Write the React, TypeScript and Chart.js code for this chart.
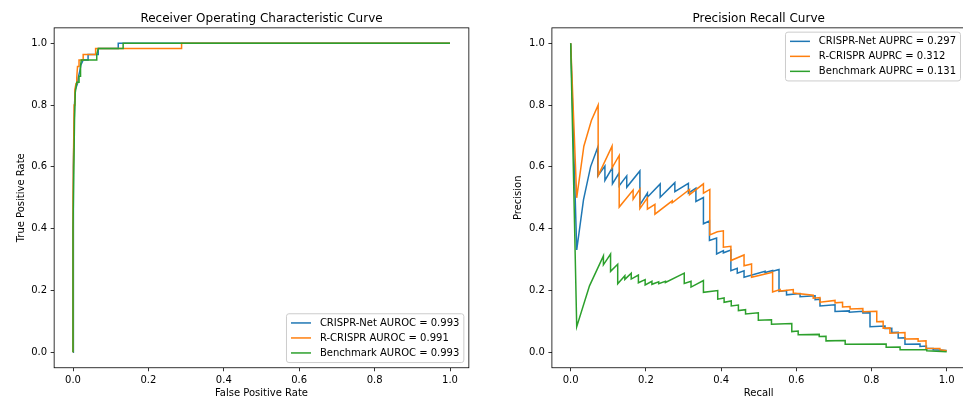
import React, { useEffect, useRef } from "react";
import { Chart, registerables } from "chart.js";
Chart.register(...registerables);

const FONT = "'DejaVu Sans', sans-serif";
const COLORS = ["#1f77b4", "#ff7f0e", "#2ca02c"];

const axisTicks = [0, 0.2, 0.4, 0.6, 0.8, 1.0];

const rocTitle = "Receiver Operating Characteristic Curve";
const rocXLabel = "False Positive Rate";
const rocYLabel = "True Positive Rate";
const rocLabels = ["CRISPR-Net AUROC = 0.993", "R-CRISPR AUROC = 0.991", "Benchmark AUROC = 0.993"];

const prTitle = "Precision Recall Curve";
const prXLabel = "Recall";
const prYLabel = "Precision";
const prLabels = ["CRISPR-Net AUPRC = 0.297", "R-CRISPR AUPRC = 0.312", "Benchmark AUPRC = 0.131"];

// ROC curves
const rocNetFpr = [0, 0, 0.002, 0.004, 0.006, 0.012, 0.014, 0.018, 0.021, 0.027, 0.040, 0.040, 0.067, 0.067, 0.120, 0.120, 1.0];
const rocNetTpr = [0, 0.35, 0.60, 0.80, 0.85, 0.87, 0.89, 0.91, 0.93, 0.946, 0.946, 0.964, 0.964, 0.983, 0.983, 1.0, 1.0];
const rocRFpr = [0, 0, 0.003, 0.005, 0.008, 0.010, 0.012, 0.016, 0.016, 0.027, 0.027, 0.060, 0.060, 0.288, 0.288, 1.0];
const rocRTpr = [0, 0.50, 0.80, 0.85, 0.87, 0.89, 0.925, 0.925, 0.946, 0.946, 0.964, 0.964, 0.983, 0.983, 1.0, 1.0];
const rocBFpr = [0, 0, 0.004, 0.006, 0.010, 0.016, 0.016, 0.020, 0.020, 0.022, 0.063, 0.063, 0.067, 0.133, 0.133, 1.0];
const rocBTpr = [0, 0.40, 0.75, 0.84, 0.874, 0.874, 0.893, 0.893, 0.927, 0.946, 0.946, 0.964, 0.983, 0.983, 1.0, 1.0];

// Precision-recall curves
const prNetRecall = [0, 0.016, 0.034, 0.053, 0.072, 0.072, 0.091, 0.091, 0.111, 0.111, 0.129, 0.129, 0.149, 0.149, 0.184, 0.184, 0.204, 0.204, 0.238, 0.238, 0.277, 0.277, 0.313, 0.313, 0.333, 0.333, 0.353, 0.353, 0.369, 0.369, 0.388, 0.388, 0.406, 0.406, 0.426, 0.426, 0.443, 0.443, 0.461, 0.461, 0.517, 0.517, 0.537, 0.537, 0.554, 0.554, 0.574, 0.574, 0.610, 0.610, 0.650, 0.650, 0.663, 0.663, 0.703, 0.703, 0.741, 0.741, 0.777, 0.777, 0.796, 0.796, 0.836, 0.836, 0.854, 0.854, 0.871, 0.871, 0.889, 0.889, 0.929, 0.929, 0.946, 0.946, 0.964, 0.964, 1.0];
const prNetPrecision = [1.0, 0.331, 0.493, 0.601, 0.664, 0.571, 0.603, 0.556, 0.598, 0.545, 0.581, 0.539, 0.571, 0.534, 0.587, 0.477, 0.515, 0.502, 0.545, 0.502, 0.549, 0.520, 0.547, 0.515, 0.531, 0.488, 0.501, 0.416, 0.425, 0.362, 0.370, 0.318, 0.329, 0.322, 0.331, 0.264, 0.272, 0.256, 0.264, 0.243, 0.262, 0.258, 0.265, 0.262, 0.268, 0.197, 0.200, 0.186, 0.190, 0.180, 0.183, 0.170, 0.172, 0.150, 0.154, 0.132, 0.134, 0.130, 0.133, 0.127, 0.128, 0.083, 0.085, 0.077, 0.078, 0.064, 0.065, 0.046, 0.047, 0.026, 0.027, 0.019, 0.020, 0.012, 0.012, 0.008, 0.006];
const prRRecall = [0, 0.016, 0.035, 0.055, 0.073, 0.073, 0.110, 0.110, 0.129, 0.129, 0.166, 0.166, 0.184, 0.184, 0.204, 0.204, 0.224, 0.224, 0.270, 0.270, 0.316, 0.316, 0.353, 0.353, 0.370, 0.370, 0.390, 0.406, 0.406, 0.426, 0.426, 0.461, 0.461, 0.481, 0.481, 0.537, 0.537, 0.557, 0.557, 0.592, 0.592, 0.645, 0.645, 0.663, 0.663, 0.703, 0.703, 0.723, 0.723, 0.743, 0.743, 0.777, 0.777, 0.814, 0.814, 0.831, 0.831, 0.849, 0.849, 0.889, 0.889, 0.924, 0.924, 0.945, 0.945, 0.982, 0.982, 1.0];
const prRPrecision = [1.0, 0.500, 0.667, 0.750, 0.800, 0.572, 0.667, 0.597, 0.637, 0.470, 0.525, 0.495, 0.528, 0.465, 0.500, 0.463, 0.479, 0.447, 0.490, 0.484, 0.527, 0.510, 0.545, 0.515, 0.527, 0.380, 0.390, 0.393, 0.340, 0.343, 0.297, 0.315, 0.280, 0.286, 0.243, 0.259, 0.195, 0.203, 0.198, 0.203, 0.192, 0.185, 0.175, 0.177, 0.162, 0.168, 0.160, 0.162, 0.147, 0.148, 0.140, 0.142, 0.131, 0.133, 0.099, 0.100, 0.078, 0.079, 0.062, 0.064, 0.043, 0.044, 0.036, 0.037, 0.013, 0.012, 0.008, 0.005];
const prBRecall = [0, 0.016, 0.050, 0.087, 0.087, 0.106, 0.106, 0.125, 0.125, 0.144, 0.144, 0.161, 0.161, 0.180, 0.180, 0.198, 0.198, 0.216, 0.216, 0.234, 0.234, 0.252, 0.252, 0.302, 0.302, 0.320, 0.320, 0.353, 0.353, 0.391, 0.391, 0.408, 0.408, 0.427, 0.427, 0.446, 0.446, 0.465, 0.465, 0.499, 0.499, 0.534, 0.534, 0.588, 0.588, 0.605, 0.605, 0.661, 0.661, 0.679, 0.679, 0.730, 0.730, 0.839, 0.839, 0.876, 0.876, 0.947, 0.947, 1.0];
const prBPrecision = [1.0, 0.083, 0.215, 0.312, 0.283, 0.318, 0.262, 0.285, 0.222, 0.248, 0.236, 0.256, 0.237, 0.250, 0.225, 0.235, 0.218, 0.230, 0.220, 0.228, 0.222, 0.230, 0.226, 0.256, 0.223, 0.230, 0.211, 0.232, 0.194, 0.200, 0.172, 0.176, 0.162, 0.166, 0.150, 0.153, 0.135, 0.138, 0.124, 0.128, 0.104, 0.105, 0.091, 0.093, 0.067, 0.069, 0.057, 0.058, 0.051, 0.052, 0.037, 0.038, 0.026, 0.027, 0.016, 0.017, 0.008, 0.008, 0.005, 0.002];

const zip = (xs: number[], ys: number[]) => {
  const n = Math.min(xs.length, ys.length);
  const out: { x: number; y: number }[] = [];
  for (let i = 0; i < n; i++) out.push({ x: xs[i], y: ys[i] });
  return out;
};

type PanelCfg = {
  title: string;
  xLabel: string;
  yLabel: string;
  labels: string[];
  series: { x: number; y: number }[][];
  legendLoc: "upper" | "lower";
  yAxisWidth: number;
  padRight: number;
};

const decorPlugin = {
  id: "mplDecor",
  afterDraw(chart: any, _args: any, opts: any) {
    const ctx = chart.ctx as CanvasRenderingContext2D;
    const a = chart.chartArea;
    ctx.save();
    // frame
    ctx.strokeStyle = "#000";
    ctx.lineWidth = 0.8;
    ctx.strokeRect(a.left, a.top, a.right - a.left, a.bottom - a.top);
    // title
    ctx.fillStyle = "#000";
    ctx.font = `12px ${FONT}`;
    ctx.textAlign = "center";
    ctx.textBaseline = "alphabetic";
    const cx = (a.left + a.right) / 2;
    ctx.fillText(opts.title, cx, a.top - 6.3);
    // x label
    ctx.font = `10px ${FONT}`;
    ctx.textBaseline = "middle";
    ctx.fillText(opts.xLabel, cx, 393.3);
    // y label
    ctx.save();
    ctx.translate(a.left - 33, (a.top + a.bottom) / 2);
    ctx.rotate(-Math.PI / 2);
    ctx.fillText(opts.yLabel, 0, 0);
    ctx.restore();
    // legend
    const labels: string[] = opts.labels;
    ctx.font = `10px ${FONT}`;
    const tw = Math.max(...labels.map((l) => ctx.measureText(l).width));
    const w = 33.4 + tw + 4.5;
    const h = 48.8;
    const right = a.right - 5;
    const left = right - w;
    const top = opts.legendLoc === "upper" ? a.top + 4.3 : a.bottom - 5.2 - h;
    const r = 2.5;
    ctx.beginPath();
    ctx.moveTo(left + r, top);
    ctx.lineTo(left + w - r, top);
    ctx.quadraticCurveTo(left + w, top, left + w, top + r);
    ctx.lineTo(left + w, top + h - r);
    ctx.quadraticCurveTo(left + w, top + h, left + w - r, top + h);
    ctx.lineTo(left + r, top + h);
    ctx.quadraticCurveTo(left, top + h, left, top + h - r);
    ctx.lineTo(left, top + r);
    ctx.quadraticCurveTo(left, top, left + r, top);
    ctx.closePath();
    ctx.fillStyle = "rgba(255,255,255,0.8)";
    ctx.fill();
    ctx.strokeStyle = "#cccccc";
    ctx.lineWidth = 1;
    ctx.stroke();
    labels.forEach((lab, i) => {
      const y = top + 9.2 + 15 * i;
      ctx.strokeStyle = COLORS[i];
      ctx.lineWidth = 1.5;
      ctx.beginPath();
      ctx.moveTo(left + 4.5, y);
      ctx.lineTo(left + 24.5, y);
      ctx.stroke();
      ctx.fillStyle = "#000";
      ctx.textAlign = "left";
      ctx.textBaseline = "middle";
      ctx.fillText(lab, left + 33.4, y + 0.5);
    });
    ctx.restore();
  },
};

function Panel({ cfg, left }: { cfg: PanelCfg; left: number }) {
  const ref = useRef<HTMLCanvasElement | null>(null);
  useEffect(() => {
    if (!ref.current) return;
    const tickOpts = {
      color: "#000",
      font: { family: FONT, size: 10 },
      padding: 3.5,
      callback: (v: any) => Number(v).toFixed(1),
    };
    const gridOpts = {
      display: true,
      drawOnChartArea: false,
      drawTicks: true,
      tickLength: 3.5,
      tickWidth: 0.8,
      tickColor: "#000",
    };
    const setTicks = (scale: any) => {
      scale.ticks = axisTicks.map((v) => ({ value: v }));
    };
    const chart = new Chart(ref.current, {
      type: "line",
      data: {
        datasets: cfg.series.map((s, i) => ({
          label: cfg.labels[i],
          data: s,
          borderColor: COLORS[i],
          backgroundColor: COLORS[i],
          borderWidth: 1.5,
          pointRadius: 0,
          tension: 0,
          fill: false,
          order: 3 - i,
        })),
      },
      options: {
        animation: false,
        responsive: false,
        devicePixelRatio: 1,
        parsing: false as any,
        layout: { padding: { left: 0, top: 27.85, right: cfg.padRight, bottom: 0 } },
        plugins: {
          legend: { display: false },
          title: { display: false },
          tooltip: { enabled: false },
          mplDecor: {
            title: cfg.title,
            xLabel: cfg.xLabel,
            yLabel: cfg.yLabel,
            labels: cfg.labels,
            legendLoc: cfg.legendLoc,
          },
        } as any,
        scales: {
          x: {
            type: "linear",
            min: -0.05,
            max: 1.05,
            afterBuildTicks: setTicks,
            afterFit: (s: any) => {
              s.height = 400 - 367.75;
            },
            ticks: { ...tickOpts, maxRotation: 0, autoSkip: false },
            grid: gridOpts,
            border: { display: false },
          },
          y: {
            type: "linear",
            min: -0.05,
            max: 1.05,
            afterBuildTicks: setTicks,
            afterFit: (s: any) => {
              s.width = cfg.yAxisWidth;
            },
            ticks: { ...tickOpts, autoSkip: false },
            grid: gridOpts,
            border: { display: false },
          },
        },
      } as any,
      plugins: [decorPlugin],
    });
    return () => chart.destroy();
  }, []);
  return (
    <canvas
      ref={ref}
      width={490}
      height={400}
      style={{ position: "absolute", left, top: 0, width: 490, height: 400 }}
    />
  );
}

export default function App() {
  const roc: PanelCfg = {
    title: rocTitle,
    xLabel: rocXLabel,
    yLabel: rocYLabel,
    labels: rocLabels,
    series: [zip(rocNetFpr, rocNetTpr), zip(rocRFpr, rocRTpr), zip(rocBFpr, rocBTpr)],
    legendLoc: "lower",
    yAxisWidth: 54.15,
    padRight: 490 - 468.85,
  };
  const pr: PanelCfg = {
    title: prTitle,
    xLabel: prXLabel,
    yLabel: prYLabel,
    labels: prLabels,
    series: [zip(prNetRecall, prNetPrecision), zip(prRRecall, prRPrecision), zip(prBRecall, prBPrecision)],
    legendLoc: "upper",
    yAxisWidth: 551.9 - 490,
    padRight: 490 - (965.5 - 490),
  };
  return (
    <div
      style={{
        position: "absolute",
        left: 0,
        top: 0,
        width: 963,
        height: 400,
        overflow: "hidden",
        background: "#fff",
      }}
    >
      <Panel cfg={roc} left={0} />
      <Panel cfg={pr} left={490} />
    </div>
  );
}
